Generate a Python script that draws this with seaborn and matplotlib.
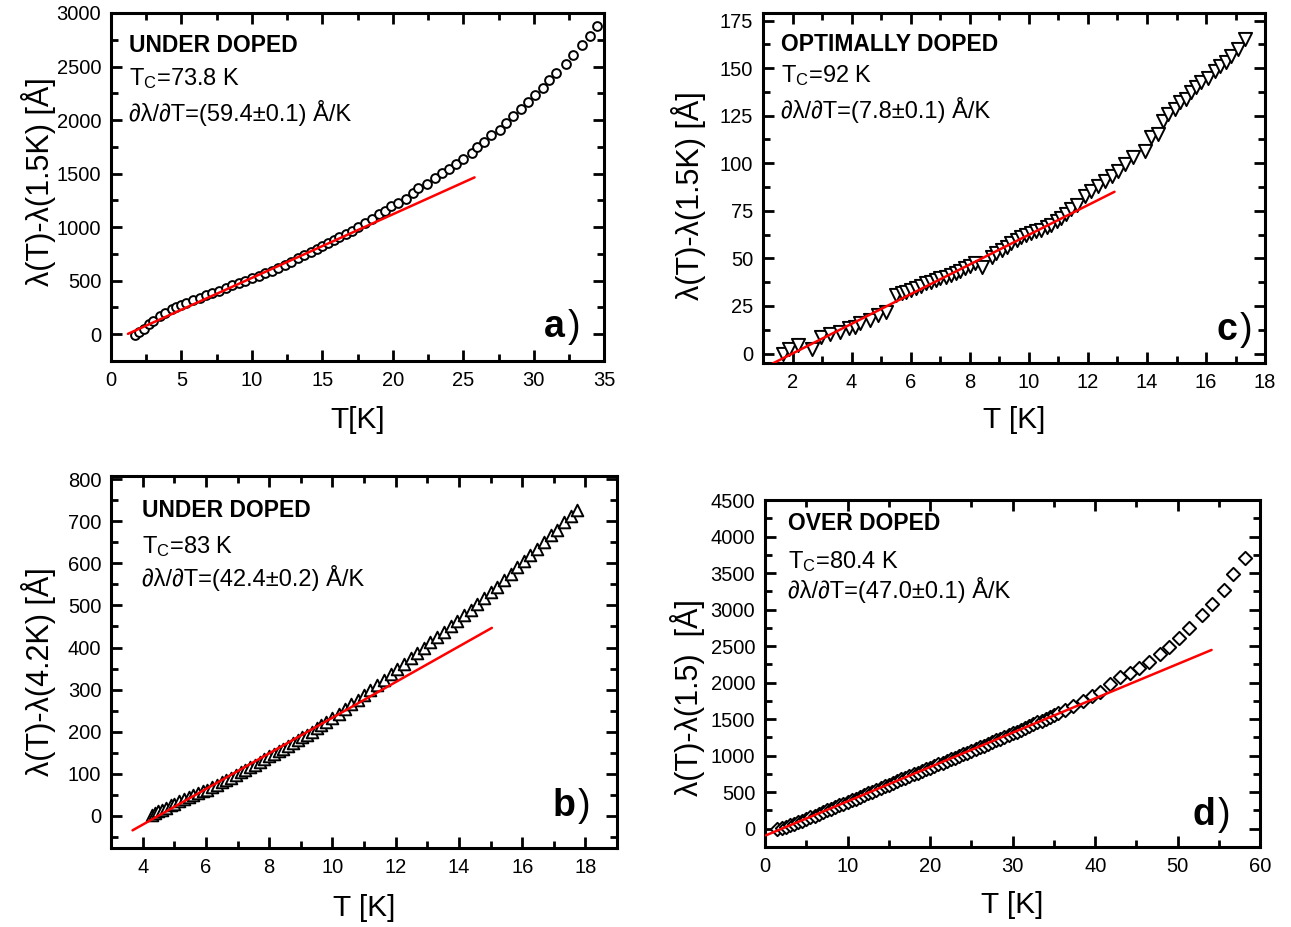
import numpy as np
import pandas as pd
import matplotlib
matplotlib.use("Agg")
import matplotlib.pyplot as plt
from matplotlib.ticker import MultipleLocator
import seaborn as sns

# ---------------- data ----------------
# Panel a: under doped, Tc = 73.8 K (circles)
Ta = [1.73, 1.96, 2.31, 2.66, 3.0, 3.48, 3.83, 4.3, 4.64, 5.0, 5.34, 5.81, 6.28, 6.74,
      7.2, 7.67, 8.14, 8.6, 9.07, 9.54, 10.0, 10.47, 10.94, 11.4, 11.87, 12.34, 12.8,
      13.27, 13.73, 14.2, 14.6, 15.0, 15.4, 15.8, 16.2, 16.7, 17.1, 17.56, 18.0, 18.5,
      19.0, 19.45, 19.9, 20.4, 20.9, 21.4, 21.8, 22.4, 23.0, 23.5, 24.0, 24.5, 25.0, 25.6,
      26.0, 26.5, 27.0, 27.6, 28.04, 28.56, 29.1, 29.6, 30.1, 30.65, 31.1, 31.6, 32.3,
      32.8, 33.4, 33.96, 34.48]
La = [-9, 22, 53, 91, 125, 169, 200, 231, 250, 272, 294, 319, 341, 363,
      381, 406, 428, 456, 475, 500, 522, 547, 569, 594, 622, 647, 672,
      709, 741, 770, 796, 822, 850, 878, 905, 940, 968, 1005, 1040, 1078,
      1118, 1155, 1195, 1229, 1264, 1318, 1365, 1406, 1459, 1507, 1547, 1591, 1638, 1695,
      1748, 1799, 1858, 1909, 1969, 2035, 2104, 2173, 2236, 2302, 2371, 2443, 2519,
      2607, 2701, 2786, 2874]

# Panel b: under doped, Tc = 83 K (up triangles)
Tb = [4.3, 4.4, 4.5, 4.6, 4.75, 4.9, 5.0, 5.15, 5.3, 5.45, 5.6, 5.75, 5.9, 6.05, 6.2,
      6.35, 6.5, 6.65, 6.8, 6.95, 7.1, 7.25, 7.4, 7.55, 7.7, 7.85, 8.0, 8.15, 8.3, 8.45,
      8.6, 8.75, 8.9, 9.05, 9.2, 9.35, 9.5, 9.65, 9.8, 10.0, 10.2, 10.4, 10.6, 10.8, 11.0,
      11.2, 11.42, 11.63, 11.84, 12.05, 12.26, 12.47, 12.68, 12.9, 13.1, 13.32, 13.53,
      13.74, 13.95, 14.16, 14.37, 14.58, 14.79, 15.0, 15.2, 15.42, 15.63, 15.84, 16.05,
      16.26, 16.47, 16.68, 16.9, 17.1, 17.32, 17.53, 17.74]
Lb = [2, 6, 10, 14, 19, 25, 28, 34, 39, 44, 49, 53, 58, 62, 68,
      73, 79, 84, 90, 96, 103, 109, 115, 121, 127, 134, 141, 147, 153, 159,
      166, 172, 179, 186, 193, 200, 208, 215, 223, 233, 243, 254, 265, 276, 287,
      298, 311, 323, 336, 349, 361, 374, 387, 400, 412, 425, 438,
      451, 464, 477, 490, 504, 518, 532, 545, 560, 575, 591, 605,
      621, 635, 651, 667, 680, 698, 714, 728]

# Panel c: optimally doped, Tc = 92 K (down triangles)
Tc = [1.67, 1.89, 2.17, 2.67, 2.95, 3.28, 3.62, 3.9, 4.1, 4.29, 4.62, 4.9, 5.18, 5.51,
      5.7, 5.85, 6.02, 6.18, 6.35, 6.51, 6.68, 6.85, 7.0, 7.18, 7.35, 7.52, 7.68, 7.85,
      8.02, 8.19, 8.41, 8.74, 8.9, 9.08, 9.25, 9.41, 9.6, 9.74, 9.9, 10.08, 10.25, 10.42,
      10.6, 10.76, 10.95, 11.1, 11.27, 11.44, 11.62, 11.9, 12.12, 12.35, 12.57, 12.8,
      13.03, 13.25, 13.53, 13.93, 14.15, 14.38, 14.55, 14.71, 14.94, 15.1, 15.33, 15.5,
      15.67, 15.84, 16.07, 16.3, 16.46, 16.69, 16.85, 17.08, 17.3]
Lc = [0, 2.6, 4.4, 2.6, 8.8, 10.5, 11.4, 13.2, 14.0, 15.8, 17.5, 20.2, 21.9, 30.7,
      31.6, 32.5, 33.3, 34.2, 35.5, 36.8, 37.7, 38.6, 39.5, 40.4, 41.2, 42.1, 43.4, 44.7,
      46.0, 47.4, 45.6, 50.9, 52.6, 54.4, 56.2, 57.9, 59.5, 61.0, 62.2, 63.3, 64.2, 65.1,
      66.4, 67.7, 69.5, 71.3, 73.5, 75.7, 78.0, 83.0, 85.6, 88.2, 90.9, 93.5,
      96.1, 99.6, 103.1, 106.6, 113.6, 115.4, 122.4, 125.9, 128.5, 132.0, 133.8, 137.2,
      140.0, 142.5, 145.0, 148.6, 151.0, 153.0, 156.5, 160.0, 165.3]

# Panel d: over doped, Tc = 80.4 K (diamonds)
Td = [1.5, 2.0, 2.5, 3.0, 3.5, 4.0, 4.5, 5.0, 5.5, 6.0, 6.5, 7.0, 7.5, 8.0, 8.5, 9.0,
      9.5, 10.0, 10.5, 11.0, 11.5, 12.0, 12.5, 13.0, 13.5, 14.0, 14.5, 15.0, 15.5, 16.0,
      16.5, 17.0, 17.5, 18.0, 18.5, 19.0, 19.5, 20.0, 20.5, 21.0, 21.5, 22.0, 22.5, 23.0,
      23.5, 24.0, 24.5, 25.0, 25.5, 26.0, 26.5, 27.0, 27.5, 28.0, 28.5, 29.0, 29.5, 30.0,
      30.5, 31.0, 31.5, 32.0, 32.5, 33.0, 33.5, 34.0, 34.5, 35.0, 35.5, 36.3, 37.3,
      38.5, 39.6, 40.6, 41.8, 43.06, 44.27, 45.3, 46.5, 47.9, 48.9, 50.1, 51.31, 52.92,
      54.13, 55.62, 56.74, 58.15]
Ld = [0, 15, 30, 50, 70, 90, 110, 133, 158, 180, 205, 228, 250, 275, 300, 322,
      345, 368, 390, 413, 437, 460, 485, 508, 530, 555, 580, 603, 628, 650,
      675, 698, 720, 745, 768, 790, 812, 835, 860, 882, 905, 928, 950, 973,
      997, 1020, 1042, 1066, 1090, 1114, 1138, 1162, 1185, 1208, 1232, 1256, 1280, 1304,
      1330, 1355, 1380, 1405, 1430, 1455, 1480, 1505, 1530, 1555, 1580, 1625, 1680,
      1750, 1815, 1877, 1975, 2081, 2127, 2195, 2286, 2391, 2490, 2605, 2742, 2923,
      3083, 3274, 3484, 3712]

# linear fits: slope (Å/K), intercept (Å), T range of the drawn line
fit_slopes = {"a": 59.4, "b": 42.4, "c": 7.8, "d": 47.0}
fit_intercepts = {"a": -68, "b": -191, "c": -15.6, "d": -95}
fit_Tranges = {"a": [1.2, 25.8], "b": [3.68, 15.04], "c": [1.32, 12.9], "d": [0.1, 54.1]}

titles = {"a": "UNDER DOPED", "b": "UNDER DOPED", "c": "OPTIMALLY DOPED", "d": "OVER DOPED"}
tc_text = {"a": "73.8 K", "b": "83 K", "c": "92 K", "d": "80.4 K"}
slope_text = {"a": "(59.4±0.1) Å/K", "b": "(42.4±0.2) Å/K", "c": "(7.8±0.1) Å/K", "d": "(47.0±0.1) Å/K"}
ylabels = {"a": "λ(T)-λ(1.5K) [Å]", "b": "λ(T)-λ(4.2K) [Å]", "c": "λ(T)-λ(1.5K) [Å]", "d": "λ(T)-λ(1.5)  [Å]"}
xlabels = {"a": "T[K]", "b": "T [K]", "c": "T [K]", "d": "T [K]"}

# ---------------- style ----------------
sns.set_theme(style="ticks")
FAM = ["Liberation Sans", "DejaVu Sans"]
plt.rcParams["font.family"] = FAM
plt.rcParams["mathtext.fontset"] = "custom"
plt.rcParams["mathtext.rm"] = "Liberation Sans"
plt.rcParams["mathtext.it"] = "Liberation Sans:italic"
plt.rcParams["mathtext.bf"] = "Liberation Sans:bold"
for k in ["text.color", "axes.labelcolor", "xtick.color", "ytick.color", "axes.edgecolor"]:
    plt.rcParams[k] = "black"

fig = plt.figure(figsize=(12.91, 9.27), dpi=100)

# axes rectangles [left, bottom, width, height] (figure fraction)
rects = {
    "a": [0.086, 0.6106, 0.382, 0.3754],
    "c": [0.591, 0.6084, 0.389, 0.3776],
    "b": [0.086, 0.0852, 0.392, 0.4013],
    "d": [0.5926, 0.0863, 0.3836, 0.3743],
}
limits = {
    "a": ((0, 35), (-250, 3000), 5, 2.5, 500, 250),
    "c": ((1, 18), (-5, 179), 2, 1, 25, 12.5),
    "b": ((3, 19), (-77, 808), 2, 1, 100, 50),
    "d": ((0, 60), (-250, 4500), 10, 5, 500, 250),
}
markers = {"a": ("o", 40), "b": ("^", 70), "c": ("v", 90), "d": ("D", 46)}
data = {"a": (Ta, La), "b": (Tb, Lb), "c": (Tc, Lc), "d": (Td, Ld)}

# text positions (axes fraction)
txt_pos = {
    "a": (0.037, 0.907, 0.812, 0.713, 0.921, 0.098),
    "b": (0.061, 0.906, 0.810, 0.726, 0.917, 0.113),
    "c": (0.036, 0.909, 0.820, 0.723, 0.944, 0.094),
    "d": (0.046, 0.931, 0.822, 0.740, 0.909, 0.092),
}
ylab_pos = {"a": (-0.148, 0.514), "b": (-0.144, 0.473), "c": (-0.149, 0.477), "d": (-0.156, 0.43)}
xlab_y = {"a": -0.17, "b": -0.161, "c": -0.163, "d": -0.167}

for key in ["a", "c", "b", "d"]:
    ax = fig.add_axes(rects[key])
    T, L = data[key]
    df = pd.DataFrame({"T": T, "L": L})
    mk, sz = markers[key]
    sns.scatterplot(data=df, x="T", y="L", ax=ax, marker=mk, s=sz,
                    facecolor="white", edgecolor="black", linewidth=1.4, zorder=2)
    tr = np.array(fit_Tranges[key])
    fit_df = pd.DataFrame({"T": tr, "L": fit_slopes[key] * tr + fit_intercepts[key]})
    sns.lineplot(data=fit_df, x="T", y="L", ax=ax, color="red", linewidth=1.8, zorder=3)

    xl, yl, xmaj, xmin, ymaj, ymin = limits[key]
    ax.set_xlim(*xl)
    ax.set_ylim(*yl)
    ax.xaxis.set_major_locator(MultipleLocator(xmaj))
    ax.xaxis.set_minor_locator(MultipleLocator(xmin))
    ax.yaxis.set_major_locator(MultipleLocator(ymaj))
    ax.yaxis.set_minor_locator(MultipleLocator(ymin))
    ax.tick_params(which="both", direction="in", top=True, right=True, width=2, colors="black")
    ax.tick_params(which="major", length=8, labelsize=14.5, pad=7)
    ax.tick_params(which="minor", length=5)
    for sp in ax.spines.values():
        sp.set_linewidth(2.2)
        sp.set_color("black")

    ax.set_xlabel(xlabels[key], fontsize=21.5)
    ax.set_ylabel(ylabels[key], fontsize=22)
    ax.xaxis.label.set_va("center")
    ax.yaxis.label.set_va("center")
    ax.xaxis.set_label_coords(0.5, xlab_y[key])
    ax.yaxis.set_label_coords(*ylab_pos[key])

    tx, y1, y2, y3, lx, ly = txt_pos[key]
    ax.text(tx, y1, titles[key], transform=ax.transAxes, fontsize=16.5,
            fontweight="bold", va="center", ha="left")
    ax.text(tx, y2, r"T$_\mathrm{C}$=" + tc_text[key], transform=ax.transAxes,
            fontsize=17, va="center", ha="left")
    ax.text(tx, y3, "∂λ/∂T=" + slope_text[key], transform=ax.transAxes,
            fontsize=17, va="center", ha="left", family=FAM)
    ax.text(lx, ly, key, transform=ax.transAxes, fontsize=27, fontweight="bold",
            va="center", ha="right")
    ax.text(lx + 0.005, ly, ")", transform=ax.transAxes, fontsize=27, fontweight="normal",
            va="center", ha="left")

fig.savefig("out.png", dpi=100)
